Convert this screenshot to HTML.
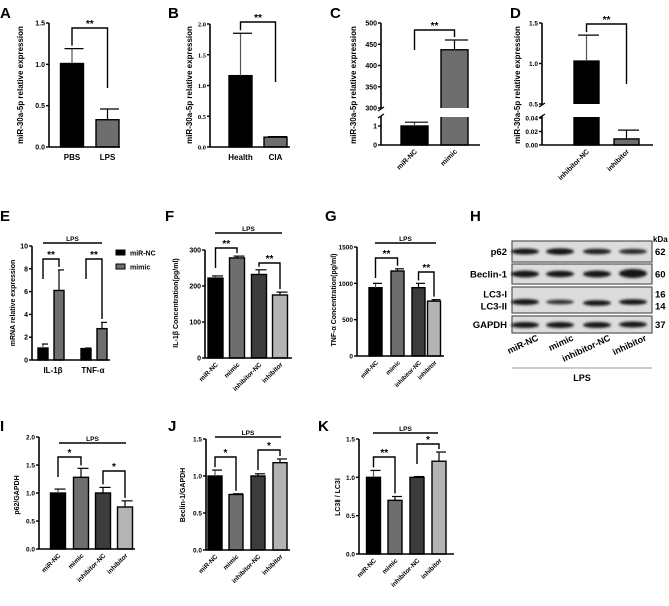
<!DOCTYPE html>
<html><head><meta charset="utf-8">
<style>
html,body{margin:0;padding:0;background:#fff;}
svg{display:block;font-family:"Liberation Sans",Arial,sans-serif;font-weight:bold;}
</style></head>
<body>
<svg id="fig" width="669" height="606" viewBox="0 0 669 606" xmlns="http://www.w3.org/2000/svg">
<defs><filter id="blur" x="-20%" y="-100%" width="140%" height="300%"><feGaussianBlur stdDeviation="1.2"/></filter></defs>
</svg>
<script>
// ---- data ----
const aCats=['PBS','LPS'];const aVals=[1.01,0.33];const aErrs=[0.18,0.13];const aTicks=[0,0.5,1.0,1.5];const aTickLabels=['0.0','0.5','1.0','1.5'];
const bCats=['Health','CIA'];const bVals=[1.16,0.16];const bErrs=[0.69,0.01];const bTicks=[0,0.5,1.0,1.5,2.0];const bTickLabels=['0.0','0.5','1.0','1.5','2.0'];
const cCats=['miR-NC','mimic'];const cVals=[1.0,437];const cErrs=[0.2,23];const cTicks=[0,1,300,350,400,450,500];const cTickLabels=['0','1','300','350','400','450','500'];
const dCats=['inhibitor-NC','inhibitor'];const dVals=[1.03,0.009];const dErrs=[0.32,0.013];const dTicks=[0,0.02,0.04,0.5,1.0,1.5];const dTickLabels=['0.00','0.02','0.04','0.5','1.0','1.5'];
const eCats=['IL-1β','TNF-α'];const eSeries=['miR-NC','mimic'];const eNcVals=[1.05,1.0];const eNcErrs=[0.35,0.05];const eMimicVals=[6.1,2.75];const eMimicErrs=[1.8,0.55];const eTicks=[0,2,4,6,8,10];const eTickLabels=['0','2','4','6','8','10'];
const grpCats=['miR-NC','mimic','inhibitor-NC','inhibitor'];
const fVals=[222,278,232,175];const fErrs=[6,5,13,8];const fTicks=[0,100,200,300];const fTickLabels=['0','100','200','300'];
const gVals=[940,1170,940,755];const gErrs=[60,30,60,20];const gTicks=[0,500,1000,1500];const gTickLabels=['0','500','1000','1500'];
const iVals=[1.0,1.28,1.0,0.75];const iErrs=[0.07,0.16,0.1,0.11];const iTicks=[0,0.5,1.0,1.5,2.0];const iTickLabels=['0.0','0.5','1.0','1.5','2.0'];
const jVals=[1.0,0.75,1.0,1.18];const jErrs=[0.08,0.01,0.03,0.05];const jTicks=[0,0.5,1.0,1.5];const jTickLabels=['0.0','0.5','1.0','1.5'];
const kVals=[1.0,0.7,1.0,1.21];const kErrs=[0.09,0.05,0.01,0.12];const kTicks=[0,0.5,1.0,1.5];const kTickLabels=['0.0','0.5','1.0','1.5'];

const NS='http://www.w3.org/2000/svg';const svg=document.getElementById('fig');
function mk(tag,at,parent,txt){const e=document.createElementNS(NS,tag);for(const k in at)e.setAttribute(k,at[k]);if(txt!==undefined)e.textContent=txt;(parent||svg).appendChild(e);return e;}
function scale(segs){return v=>{let s=segs[0];for(const g of segs){if(v>=g[0]-1e-9)s=g;}return s[1]+(v-s[0])*(s[3]-s[1])/(s[2]-s[0]);};}
function letter(t,x,y){const e=mk('text',{x:x,y:y,'font-size':15},svg,t);

}
const four=['#000','#6e6e6e','#3c3c3c','#b4b4b4'];

function chart(o){
 const g=mk('g',{});
 
 
 const y=scale(o.segs);const base=y(0);
 o.vals.forEach((v,i)=>{
  const cx=o.cx[i];
  const r=mk('rect',{x:cx-o.bw/2,y:y(v),width:o.bw,height:base-y(v),fill:o.colors[i],stroke:'#000','stroke-width':1.4},g);
  
  
  const t=y(v+o.errs[i]);
  const e1=mk('line',{x1:cx,x2:cx,y1:y(v),y2:t,stroke:o.colors[i]==='#000'?'#555':'#000','stroke-width':1.2},g);
  
  
  mk('line',{x1:cx-o.bw/2+4,x2:cx+o.bw/2,y1:t,y2:t,stroke:'#000','stroke-width':1.2},g);
  if(o.gap){mk('rect',{x:cx-o.bw/2-2,y:o.gap[0],width:o.bw+4,height:o.gap[1]-o.gap[0],fill:'#fff'},g);}
 });
 const ya=mk('line',{x1:o.ax,x2:o.ax,y1:o.yTop,y2:base,stroke:'#000','stroke-width':1.6},g);
 
 
 const xa=mk('line',{x1:o.ax,x2:o.axEnd,y1:base,y2:base,stroke:'#000','stroke-width':1.6},g);
 
 
 if(o.gap){mk('rect',{x:o.ax-3,y:o.gap[0]+1,width:6,height:o.gap[1]-o.gap[0]-2,fill:'#fff'},g);
  mk('line',{x1:o.ax-3,x2:o.ax+3,y1:o.gap[0]+3,y2:o.gap[0]-1,stroke:'#000','stroke-width':1.2},g);
  mk('line',{x1:o.ax-3,x2:o.ax+3,y1:o.gap[1]+1,y2:o.gap[1]-3,stroke:'#000','stroke-width':1.2},g);}
 o.ticks.forEach((v,i)=>{const ty=y(v);mk('line',{x1:o.ax-3,x2:o.ax,y1:ty,y2:ty,stroke:'#000','stroke-width':1.4},g);
  const t=mk('text',{x:o.ax-4,y:ty+2.5,'font-size':o.tfs||7,'text-anchor':'end','font-family':o.serif?'"Liberation Serif",serif':'inherit'},g,o.tickLabels[i]);
  
  });
 o.labels.forEach((c,i)=>{const lx=o.lx[i];let t;
  if(o.rot){t=mk('text',{x:lx+3,y:base+7,'font-size':o.xfs||7,'text-anchor':'end',transform:`rotate(-45 ${lx+3} ${base+7})`},g,c);}
  else{t=mk('text',{x:lx,y:base+13,'font-size':o.xfs||8,'text-anchor':'middle'},g,c);}
  
  });
 const tt=mk('text',{x:o.titleX,y:o.titleY,'font-size':o.titfs||8,'text-anchor':'middle',transform:`rotate(-90 ${o.titleX} ${o.titleY})`},g,o.title);
 
 
 if(o.lps){mk('line',{x1:o.lps[1],x2:o.lps[2],y1:o.lps[0],y2:o.lps[0],stroke:'#000','stroke-width':1.4},g);
  const l=mk('text',{x:(o.lps[1]+o.lps[2])/2,y:o.lps[0]-2,'font-size':6.5,'text-anchor':'middle'},g,'LPS');
  
  }
 (o.br||[]).forEach(b=>{const [i,j,by,txt]=b;const x1=o.cx[i],x2=o.cx[j];
  const y1=Math.min(y(o.vals[i]+o.errs[i])-3,by+20),y2=Math.min(y(o.vals[j]+o.errs[j])-3,by+60);
  mk('polyline',{points:`${x1},${y1} ${x1},${by} ${x2},${by} ${x2},${y2}`,fill:'none',stroke:'#000','stroke-width':1.4},g);
  const s=mk('text',{x:(x1+x2)/2,y:by-1,'font-size':10,'text-anchor':'middle'},g,txt);
  
  });
 return g;
}

letter('A',0,18);letter('B',168,18);letter('C',330,18);letter('D',510,18);
letter('E',0,221);letter('F',165,221);letter('G',325,221);letter('H',470,221);
letter('I',0,431);letter('J',168,431);letter('K',318,431);

chart({name:'chart-a',cats:aCats,labels:aCats,vals:aVals,errs:aErrs,colors:['#000','#6e6e6e'],cx:[72,107.5],lx:[72,107.5],bw:23,
 segs:[[0,147,1.5,23]],ticks:aTicks,tickLabels:aTickLabels,ax:49,axEnd:120,yTop:23,title:'miR-30a-5p relative expression',titleX:23,titleY:85,br:[[0,1,28,'**']]});
chart({name:'chart-b',cats:bCats,labels:bCats,vals:bVals,errs:bErrs,colors:['#000','#6e6e6e'],cx:[240.5,275.5],lx:[240.5,275.5],bw:23,serif:true,tfs:6.5,
 segs:[[0,147,2.0,24]],ticks:bTicks,tickLabels:bTickLabels,ax:210,axEnd:290,yTop:24,title:'miR-30a-5p relative expression',titleX:192,titleY:85,br:[[0,1,22,'**']]});
chart({name:'chart-c',cats:cCats,labels:cCats,vals:cVals,errs:cErrs,colors:['#000','#6e6e6e'],cx:[414.5,454.5],lx:[414.5,454.5],bw:27,rot:true,
 segs:[[0,145,1,126],[300,108,500,23]],gap:[108,117],ticks:cTicks,tickLabels:cTickLabels,ax:381,axEnd:480,yTop:23,title:'miR-30a-5p relative expression',titleX:356,titleY:85,br:[[0,1,30,'**']]});
chart({name:'chart-d',cats:dCats,labels:dCats,vals:dVals,errs:dErrs,colors:['#000','#6e6e6e'],cx:[586.5,626.5],lx:[586.5,626.5],bw:25,rot:true,tfs:6.5,
 segs:[[0,145,0.04,118],[0.5,104,1.5,23]],gap:[104,117],ticks:dTicks,tickLabels:dTickLabels,ax:542,axEnd:653,yTop:23,title:'miR-30a-5p relative expression',titleX:520,titleY:85,br:[[0,1,24,'**']]});

chart({name:'chart-e',cats:eCats,keys:['il1b-mir-nc','il1b-mimic','tnfa-mir-nc','tnfa-mimic'],labels:eCats,lx:[53,93],
 vals:[eNcVals[0],eMimicVals[0],eNcVals[1],eMimicVals[1]],errs:[eNcErrs[0],eMimicErrs[0],eNcErrs[1],eMimicErrs[1]],
 colors:['#000','#6e6e6e','#000','#6e6e6e'],cx:[43,59,86,102],bw:10,
 segs:[[0,360,10,246]],ticks:eTicks,tickLabels:eTickLabels,ax:32,axEnd:110,yTop:246,title:'mRNA relative expression',titleX:15,titleY:303,titfs:7,
 lps:[243,43,102],br:[[0,1,259,'**'],[2,3,259,'**']]});
[['#000',eSeries[0],253],['#6e6e6e',eSeries[1],267]].forEach(l=>{
 const r=mk('rect',{x:116,y:l[2]-3,width:9,height:5,fill:l[0],stroke:'#000'});
 
 
 const t=mk('text',{x:130,y:l[2]+2.5,'font-size':7},svg,l[1]);
 
 });

chart({name:'chart-f',cats:grpCats,labels:grpCats,vals:fVals,errs:fErrs,colors:four,cx:[215.5,237,259,280],lx:[215.5,237,259,280],bw:15,rot:true,xfs:6.5,
 segs:[[0,358,300,250]],ticks:fTicks,tickLabels:fTickLabels,ax:205,axEnd:292,yTop:250,title:'IL-1β Concentration(pg/ml)',titleX:178,titleY:303,titfs:7,
 lps:[233,215,282],br:[[0,1,248,'**'],[2,3,263,'**']]});
chart({name:'chart-g',cats:grpCats,labels:grpCats,vals:gVals,errs:gErrs,colors:four,cx:[375.5,397.5,418.5,434],lx:[375.5,397.5,418.5,434],bw:13,rot:true,xfs:6,
 segs:[[0,356,1500,247]],ticks:gTicks,tickLabels:gTickLabels,ax:357,axEnd:444,yTop:247,title:'TNF-α Concentration(pg/ml)',titleX:336,titleY:300,titfs:7,tfs:6.5,
 lps:[243,375,436],br:[[0,1,258,'**'],[2,3,272,'**']]});
chart({name:'chart-i',cats:grpCats,labels:grpCats,vals:iVals,errs:iErrs,colors:four,cx:[58,81,103,125],lx:[58,81,103,125],bw:15,rot:true,xfs:6.5,
 segs:[[0,549,2.0,437]],ticks:iTicks,tickLabels:iTickLabels,ax:39,axEnd:135,yTop:437,title:'p62/GAPDH',titleX:19,titleY:495,titfs:7,tfs:6.5,
 lps:[443,59,126],br:[[0,1,457,'*'],[2,3,471,'*']]});
chart({name:'chart-j',cats:grpCats,labels:grpCats,vals:jVals,errs:jErrs,colors:four,cx:[215,236,258,280],lx:[215,236,258,280],bw:14,rot:true,xfs:6.5,
 segs:[[0,550,1.5,439]],ticks:jTicks,tickLabels:jTickLabels,ax:206,axEnd:290,yTop:439,title:'Beclin-1/GAPDH',titleX:185,titleY:495,titfs:7,tfs:6.5,
 lps:[437,215,281],br:[[0,1,457,'*'],[2,3,450,'*']]});
chart({name:'chart-k',cats:grpCats,labels:grpCats,vals:kVals,errs:kErrs,colors:four,cx:[373.5,395,417,439],lx:[373.5,395,417,439],bw:14,rot:true,xfs:6.5,
 segs:[[0,554,1.5,439]],ticks:kTicks,tickLabels:kTickLabels,ax:359,axEnd:454,yTop:439,title:'LC3Ⅱ / LC3Ⅰ',titleX:340,titleY:497,titfs:7,tfs:6.5,
 lps:[433,373,438],br:[[0,1,457,'**'],[2,3,444,'*']]});

const lanes=[525,560,597,633];
const blotRows=[{n:'p62',y0:241,y1:262,lbl:['p62'],kda:['62'],bands:[[251.5,3,1],[251.5,3.2,1],[251.5,2.8,0.95],[251.5,2.6,0.9]]},
 {n:'beclin-1',y0:264,y1:284,lbl:['Beclin-1'],kda:['60'],bands:[[274,3.4,1],[274,3.2,1],[274,3.4,1],[273.5,4.5,1]]},
 {n:'lc3',y0:287,y1:313,lbl:['LC3-I','LC3-II'],kda:['16','14'],bands:[[302,3,1],[302,2.4,0.85],[303,2.8,1],[302,2.8,1]]},
 {n:'gapdh',y0:316,y1:333,lbl:['GAPDH'],kda:['37'],bands:[[325,3,1],[325,3,1],[325,3,1],[324.5,3,1]]}];
const hg=mk('g',{});


blotRows.forEach(r=>{
 const b=mk('rect',{x:512,y:r.y0,width:140,height:r.y1-r.y0,fill:'#dcdcdc',stroke:'#555','stroke-width':1.2},hg);
 
 
 r.bands.forEach((bd,i)=>{mk('ellipse',{cx:lanes[i],cy:bd[0],rx:14,ry:bd[1],fill:'#151515',opacity:bd[2],filter:'url(#blur)'},hg);});
 if(r.lbl.length===1){
  const t=mk('text',{x:507,y:(r.y0+r.y1)/2+3.5,'font-size':9.5,'text-anchor':'end'},hg,r.lbl[0]);
  
  
  const k=mk('text',{x:655,y:(r.y0+r.y1)/2+3.5,'font-size':9.5},hg,r.kda[0]);
  
  
 } else {
  [[294],[306]].forEach((yy,i)=>{
   const t=mk('text',{x:507,y:yy[0]+3.5,'font-size':9.5,'text-anchor':'end'},hg,r.lbl[i]);
   
   
   const k=mk('text',{x:655,y:yy[0]+3.5,'font-size':9.5},hg,r.kda[i]);
   
   });
 }
});
const kd=mk('text',{x:653,y:242,'font-size':8},hg,'kDa');


grpCats.forEach((c,i)=>{const x=lanes[i]+14;const t=mk('text',{x:x,y:340,'font-size':9,'text-anchor':'end',transform:`rotate(-25 ${x} 340)`},hg,c);
 
 });
mk('line',{x1:512,x2:652,y1:368,y2:368,stroke:'#999','stroke-width':1},hg);
const lp=mk('text',{x:582,y:381,'font-size':9,'text-anchor':'middle'},hg,'LPS');


</script>
</body></html>
